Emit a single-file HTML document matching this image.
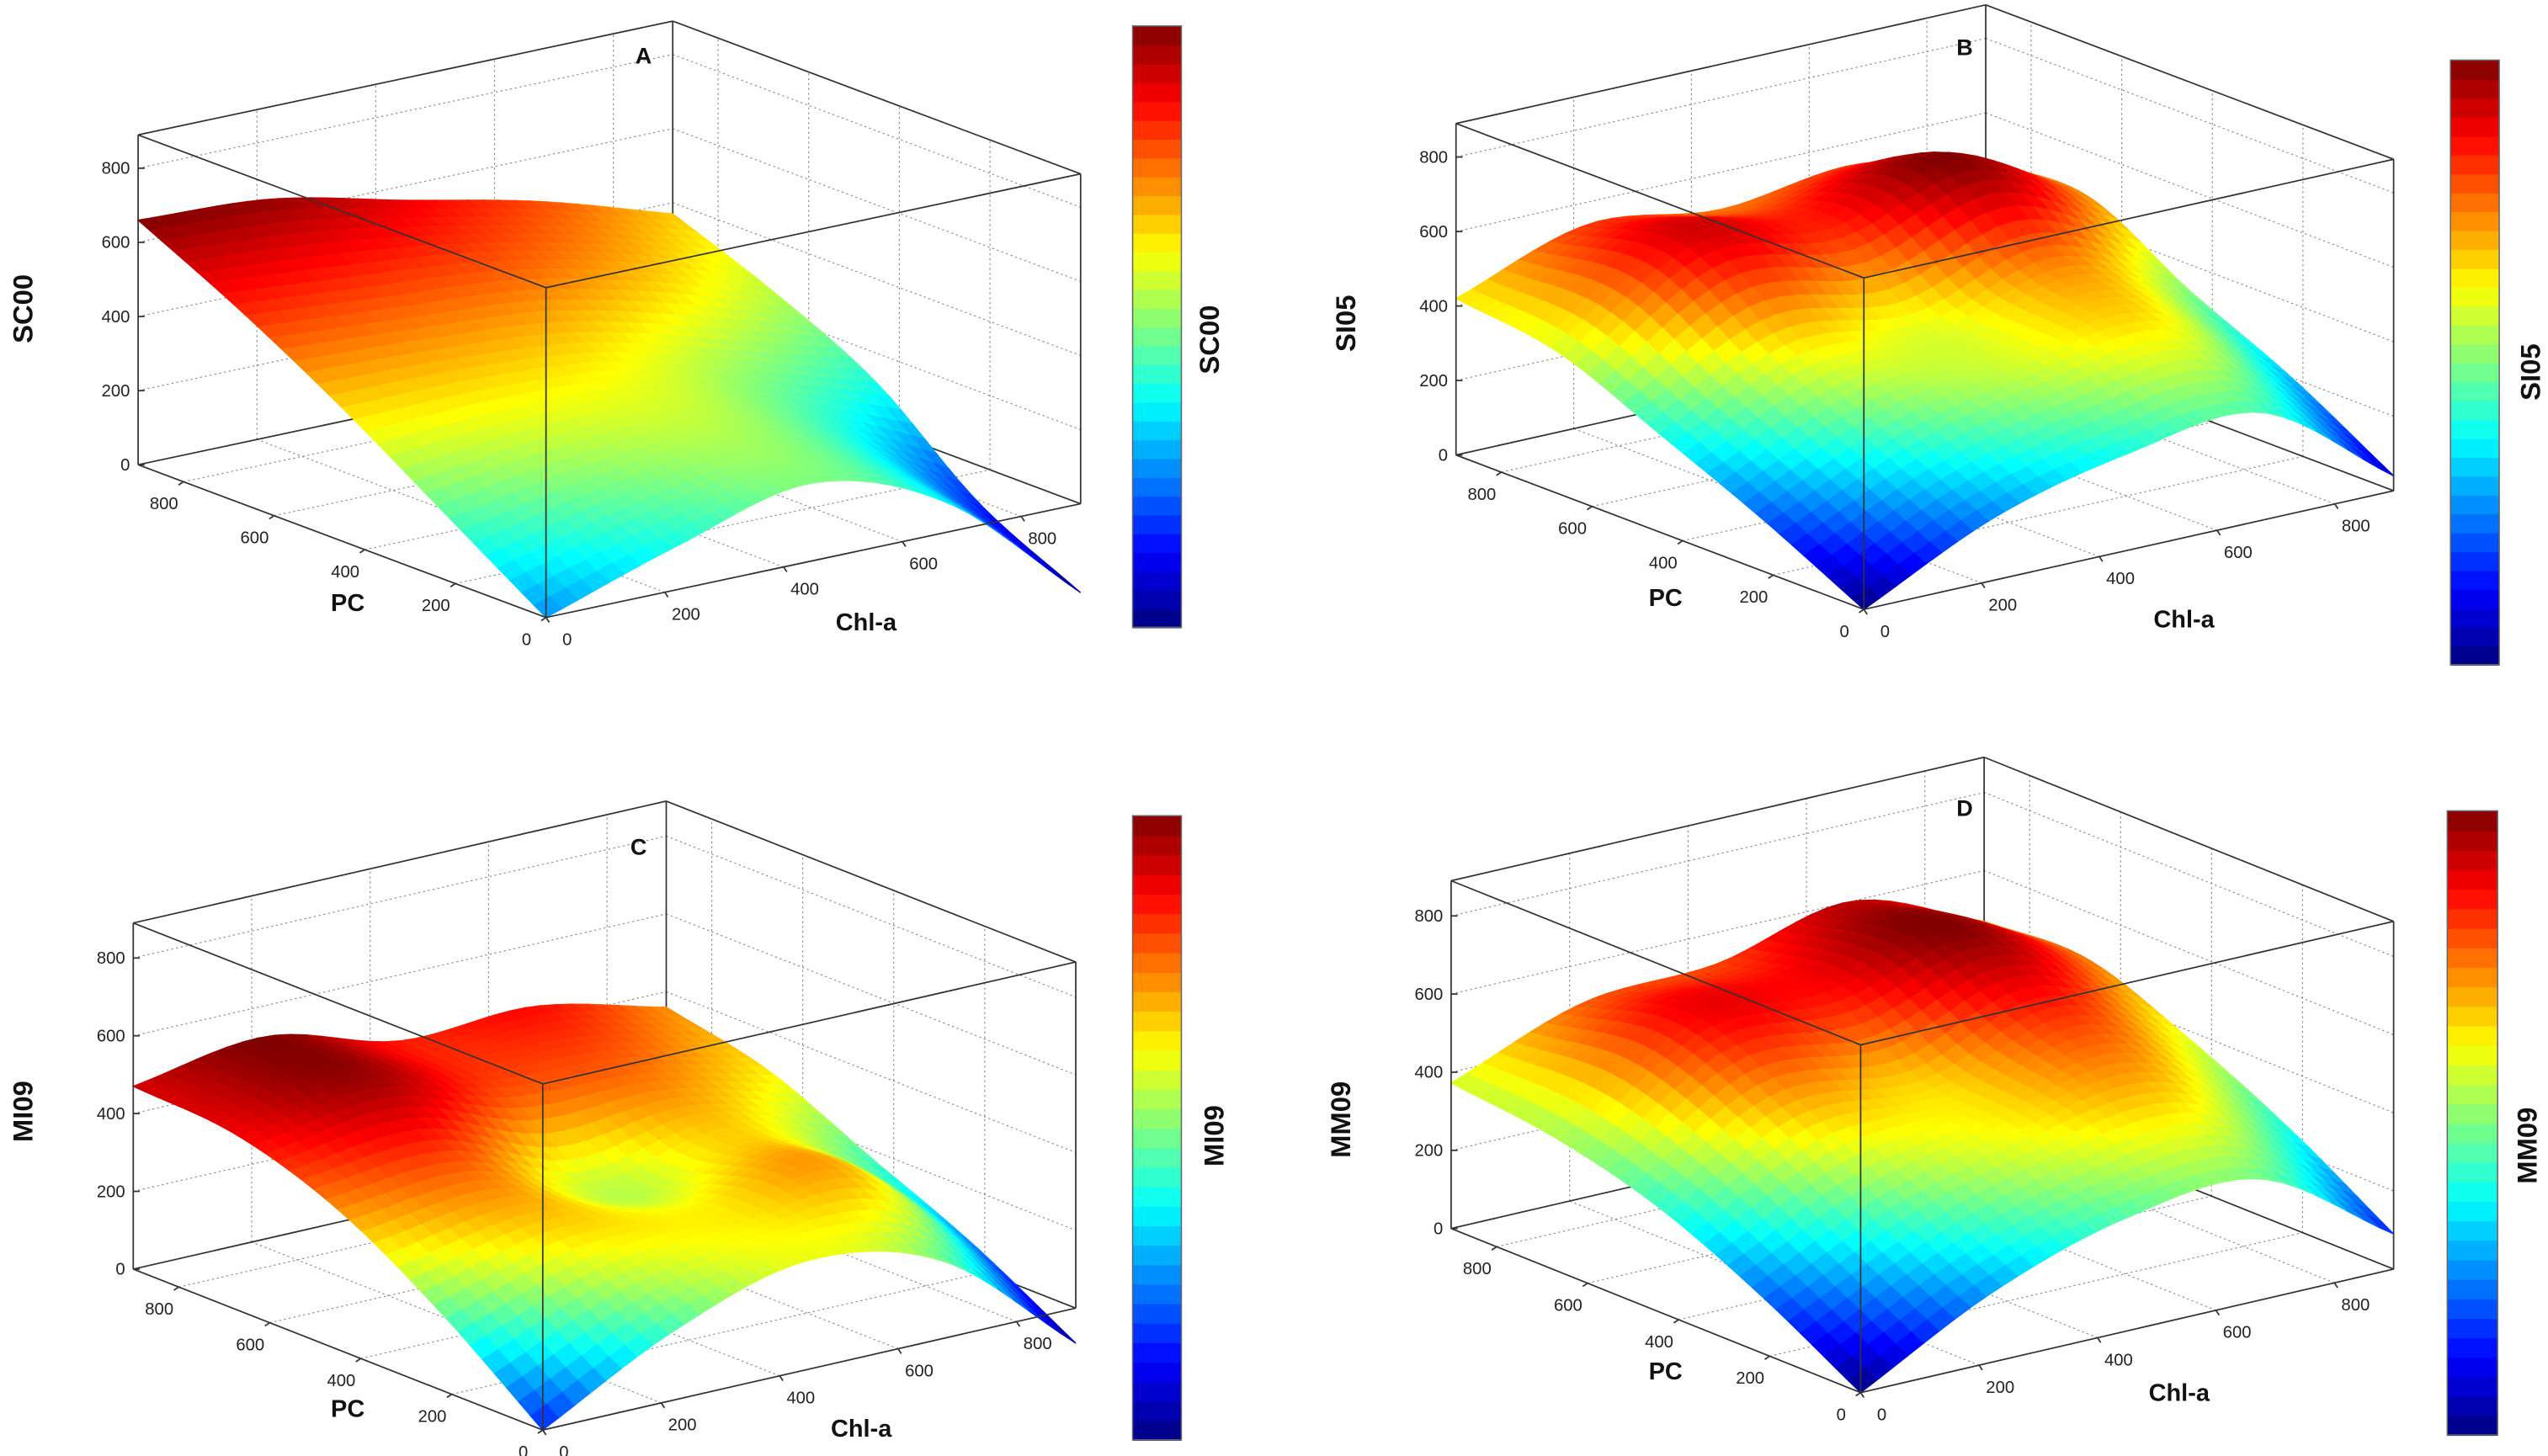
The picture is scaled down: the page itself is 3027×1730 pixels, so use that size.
<!DOCTYPE html>
<html><head><meta charset="utf-8">
<style>
html,body{margin:0;padding:0;background:#fff;}
svg{display:block;font-family:"Liberation Sans",sans-serif;}
.tick{font-size:10.5px;fill:#222;}
.axl{font-size:15px;font-weight:bold;fill:#111;}
.yl{font-size:17px;font-weight:bold;fill:#111;}
.let{font-size:14px;font-weight:bold;fill:#111;}
</style></head>
<body>
<svg id="fig" width="3027" height="1730" viewBox="0 0 1568 896" preserveAspectRatio="none" xmlns="http://www.w3.org/2000/svg"></svg>
<script>
// ---- data (rows: PC = 0,225,450,675,900 ; cols: Chl-a = 0,225,450,675,900) ----
const gridPC = [0, 225, 450, 675, 900];
const gridChl = [0, 225, 450, 675, 900];
const zA = [
  [0, 120, 210, 80, -240],
  [180, 240, 260, 140, -100],
  [360, 360, 330, 230, 120],
  [520, 490, 460, 380, 260],
  [660, 640, 560, 480, 370]
];
const zB = [
  [0, 170, 260, 290, 40],
  [140, 300, 380, 420, 200],
  [263, 430, 400, 500, 330],
  [380, 600, 560, 660, 480],
  [420, 540, 500, 540, 470]
];
const zC = [
  [0, 180, 280, 200, -90],
  [200, 300, 300, 340, 60],
  [360, 380, 250, 320, 180],
  [450, 500, 400, 380, 300],
  [470, 520, 430, 440, 360]
];
const zD = [
  [0, 180, 290, 310, 90],
  [150, 310, 400, 440, 250],
  [270, 450, 430, 540, 380],
  [340, 560, 560, 640, 480],
  [372, 500, 520, 600, 470]
];
const chlTicks = [0, 200, 400, 600, 800];
const pcTicks = [0, 200, 400, 600, 800];
const zTicks = [0, 200, 400, 600, 800];
const zLabels = ["SC00", "SI05", "MI09", "MM09"];
const panelLetters = ["A", "B", "C", "D"];

// ---- layout ----
const XMAX = 900, YMAX = 900, ZMAX = 890;
const geoms = [
  {F:[336,380], L:[85,286], R:[665,310], H:203, cb:[697,16,30,370], let:[396,39], yl:[14,190], cbl:[744,209], pc:[214,376], chl:[533,388]},
  {F:[1147,375], L:[896,280], R:[1473,302], H:204, cb:[1508,37,30,372], let:[1209,34], yl:[828,199], cbl:[1557,229], pc:[1025,373], chl:[1344,386]},
  {F:[334,880], L:[82,781], R:[662,805], H:213, cb:[697,502,30,384], let:[393,526], yl:[14,684], cbl:[747,699], pc:[214,872], chl:[530,884]},
  {F:[1145,857], L:[893,756], R:[1473,781], H:214, cb:[1506,499,31,384], let:[1209,502], yl:[825,689], cbl:[1555,705], pc:[1025,849], chl:[1341,862]}
];
const datas = [zA, zB, zC, zD];
const NS = "http://www.w3.org/2000/svg";
const svg = document.getElementById('fig');

function jet(t){
  t = Math.max(0, Math.min(1, t));
  const r = Math.max(0, Math.min(1, 1.5 - Math.abs(4*t - 3)));
  const g = Math.max(0, Math.min(1, 1.5 - Math.abs(4*t - 2)));
  const b = Math.max(0, Math.min(1, 1.5 - Math.abs(4*t - 1)));
  return `rgb(${Math.round(r*255)},${Math.round(g*255)},${Math.round(b*255)})`;
}
function el(tag, attrs, parent){
  const e = document.createElementNS(NS, tag);
  for (const k in attrs) e.setAttribute(k, attrs[k]);
  (parent || svg).appendChild(e);
  return e;
}
function cr(p0,p1,p2,p3,t){
  return 0.5*((2*p1)+(-p0+p2)*t+(2*p0-5*p1+4*p2-p3)*t*t+(-p0+3*p1-3*p2+p3)*t*t*t);
}
function interp1(arr, u){
  const n = arr.length;
  let i = Math.floor(u); if (i >= n-1) i = n-2; if (i < 0) i = 0;
  const t = u - i;
  const g = k => arr[Math.max(0, Math.min(n-1, k))];
  let p0 = g(i-1), p3 = g(i+2);
  if (i-1 < 0) p0 = 2*g(0) - g(1);
  if (i+2 > n-1) p3 = 2*g(n-1) - g(n-2);
  return cr(p0, g(i), g(i+1), p3, t);
}
function surfZ(data, c, p){
  const uc = c / (gridChl[gridChl.length-1] - gridChl[0]) * (gridChl.length-1);
  const up = p / (gridPC[gridPC.length-1] - gridPC[0]) * (gridPC.length-1);
  const col = data.map(row => interp1(row, uc));
  return interp1(col, up);
}
function makeProj(g){
  return function(c, p, z){
    return [g.F[0] + (g.R[0]-g.F[0])*c/XMAX + (g.L[0]-g.F[0])*p/YMAX,
            g.F[1] + (g.R[1]-g.F[1])*c/XMAX + (g.L[1]-g.F[1])*p/YMAX - g.H*z/ZMAX];
  };
}
function line(g, a, b, attrs, name){
  const e = el('line', Object.assign({x1:a[0], y1:a[1], x2:b[0], y2:b[1]}, attrs), g);
  
  
  return e;
}
function text(g, x, y, s, cls, extra, name){
  const e = el('text', Object.assign({x:x, y:y, class:cls}, extra || {}), g);
  e.textContent = s;
  
  
  return e;
}

datas.forEach((data, k) => {
  const G = geoms[k];
  const P = makeProj(G);
  const grp = el('g', {});
  
  
  const dot = {stroke:'#8a8a8a', 'stroke-width':0.6, 'stroke-dasharray':'1.2 1.8'};
  const edge = {stroke:'#333', 'stroke-width':0.9};

  // back-wall gridlines
  zTicks.forEach(z => {
    line(grp, P(0,YMAX,z), P(XMAX,YMAX,z), dot, 'z-gridline');
    line(grp, P(XMAX,YMAX,z), P(XMAX,0,z), dot, 'z-gridline');
  });
  chlTicks.forEach(c => {
    line(grp, P(c,0,0), P(c,YMAX,0), dot, 'chl-gridline');
    line(grp, P(c,YMAX,0), P(c,YMAX,ZMAX), dot, 'chl-gridline');
  });
  pcTicks.forEach(p => {
    line(grp, P(0,p,0), P(XMAX,p,0), dot, 'pc-gridline');
    line(grp, P(XMAX,p,0), P(XMAX,p,ZMAX), dot, 'pc-gridline');
  });
  // back box edges
  line(grp, P(0,YMAX,0), P(XMAX,YMAX,0), edge, 'box-edge');
  line(grp, P(XMAX,0,0), P(XMAX,YMAX,0), edge, 'box-edge');
  line(grp, P(XMAX,YMAX,0), P(XMAX,YMAX,ZMAX), edge, 'box-edge');

  // surface
  let mn = Infinity, mx = -Infinity;
  data.forEach(r => r.forEach(v => { mn = Math.min(mn, v); mx = Math.max(mx, v); }));
  const N = 34;
  const Z = [];
  for (let j = 0; j <= N; j++){ Z.push([]); for (let i = 0; i <= N; i++) Z[j].push(surfZ(data, XMAX*i/N, YMAX*j/N)); }
  const sg = el('g', {}, grp);
  
  
  const cells = [];
  for (let j = 0; j < N; j++) for (let i = 0; i < N; i++) cells.push([i, j]);
  cells.sort((a, b) => (b[0]+b[1]) - (a[0]+a[1]));
  cells.forEach(([i, j]) => {
    const c0 = XMAX*i/N, c1 = XMAX*(i+1)/N, p0 = YMAX*j/N, p1 = YMAX*(j+1)/N;
    const pts = [P(c0,p0,Z[j][i]), P(c1,p0,Z[j][i+1]), P(c1,p1,Z[j+1][i+1]), P(c0,p1,Z[j+1][i])];
    const avg = (Z[j][i]+Z[j][i+1]+Z[j+1][i+1]+Z[j+1][i])/4;
    const col = jet((avg - mn)/(mx - mn));
    const q = el('polygon', {points: pts.map(p => p[0].toFixed(2)+','+p[1].toFixed(2)).join(' '), fill: col, stroke: col, 'stroke-width': 0.7}, sg);
    
    
  });

  // front box edges
  line(grp, P(0,0,0), P(0,YMAX,0), edge, 'box-edge');
  line(grp, P(0,0,0), P(XMAX,0,0), edge, 'box-edge');
  line(grp, P(0,0,0), P(0,0,ZMAX), edge, 'box-edge');
  line(grp, P(0,YMAX,0), P(0,YMAX,ZMAX), edge, 'box-edge');
  line(grp, P(XMAX,0,0), P(XMAX,0,ZMAX), edge, 'box-edge');
  line(grp, P(0,0,ZMAX), P(0,YMAX,ZMAX), edge, 'box-edge');
  line(grp, P(0,0,ZMAX), P(XMAX,0,ZMAX), edge, 'box-edge');
  line(grp, P(0,YMAX,ZMAX), P(XMAX,YMAX,ZMAX), edge, 'box-edge');
  line(grp, P(XMAX,0,ZMAX), P(XMAX,YMAX,ZMAX), edge, 'box-edge');

  // ticks & labels
  zTicks.forEach(z => {
    const a = P(0,YMAX,z);
    line(grp, a, [a[0]+4, a[1]], edge, 'z-tick');
    text(grp, a[0]-5, a[1]+3.5, String(z), 'tick', {'text-anchor':'end'}, 'z-tick-label');
  });
  pcTicks.forEach(p => {
    const a = P(0,p,0);
    line(grp, a, [a[0]-3, a[1]+2], edge, 'pc-tick');
    text(grp, a[0]-12, a[1]+17, String(p), 'tick', {'text-anchor':'middle'}, 'pc-tick-label');
  });
  chlTicks.forEach(c => {
    const a = P(c,0,0);
    line(grp, a, [a[0]+2, a[1]+3], edge, 'chl-tick');
    text(grp, a[0]+13, a[1]+17, String(c), 'tick', {'text-anchor':'middle'}, 'chl-tick-label');
  });
  text(grp, G.pc[0], G.pc[1], 'PC', 'axl', {'text-anchor':'middle'}, 'pc-axis-title');
  text(grp, G.chl[0], G.chl[1], 'Chl-a', 'axl', {'text-anchor':'middle'}, 'chl-axis-title');
  text(grp, G.yl[0], G.yl[1], zLabels[k], 'yl', {'text-anchor':'middle', transform:`rotate(-90 ${G.yl[0]} ${G.yl[1]})`, dy:'6'}, 'z-axis-title');
  text(grp, G.let[0], G.let[1], panelLetters[k], 'let', {'text-anchor':'middle'}, 'panel-letter');

  // colorbar
  const cbg = el('g', {}, grp);
  
  
  const [cx, cy, cw, ch] = G.cb;
  const NB = 32;
  for (let b = 0; b < NB; b++){
    const r = el('rect', {x:cx, y:(cy + ch*(NB-1-b)/NB).toFixed(2), width:cw, height:(ch/NB+0.6).toFixed(2), fill: jet((b+0.5)/NB)}, cbg);
    
    
  }
  const fr = el('rect', {x:cx, y:cy, width:cw, height:ch, fill:'none', stroke:'#666', 'stroke-width':0.8}, cbg);
  
  
  text(grp, G.cbl[0], G.cbl[1], zLabels[k], 'yl', {'text-anchor':'middle', transform:`rotate(-90 ${G.cbl[0]} ${G.cbl[1]})`, dy:'6'}, 'colorbar-title');
});
</script>
</body></html>
